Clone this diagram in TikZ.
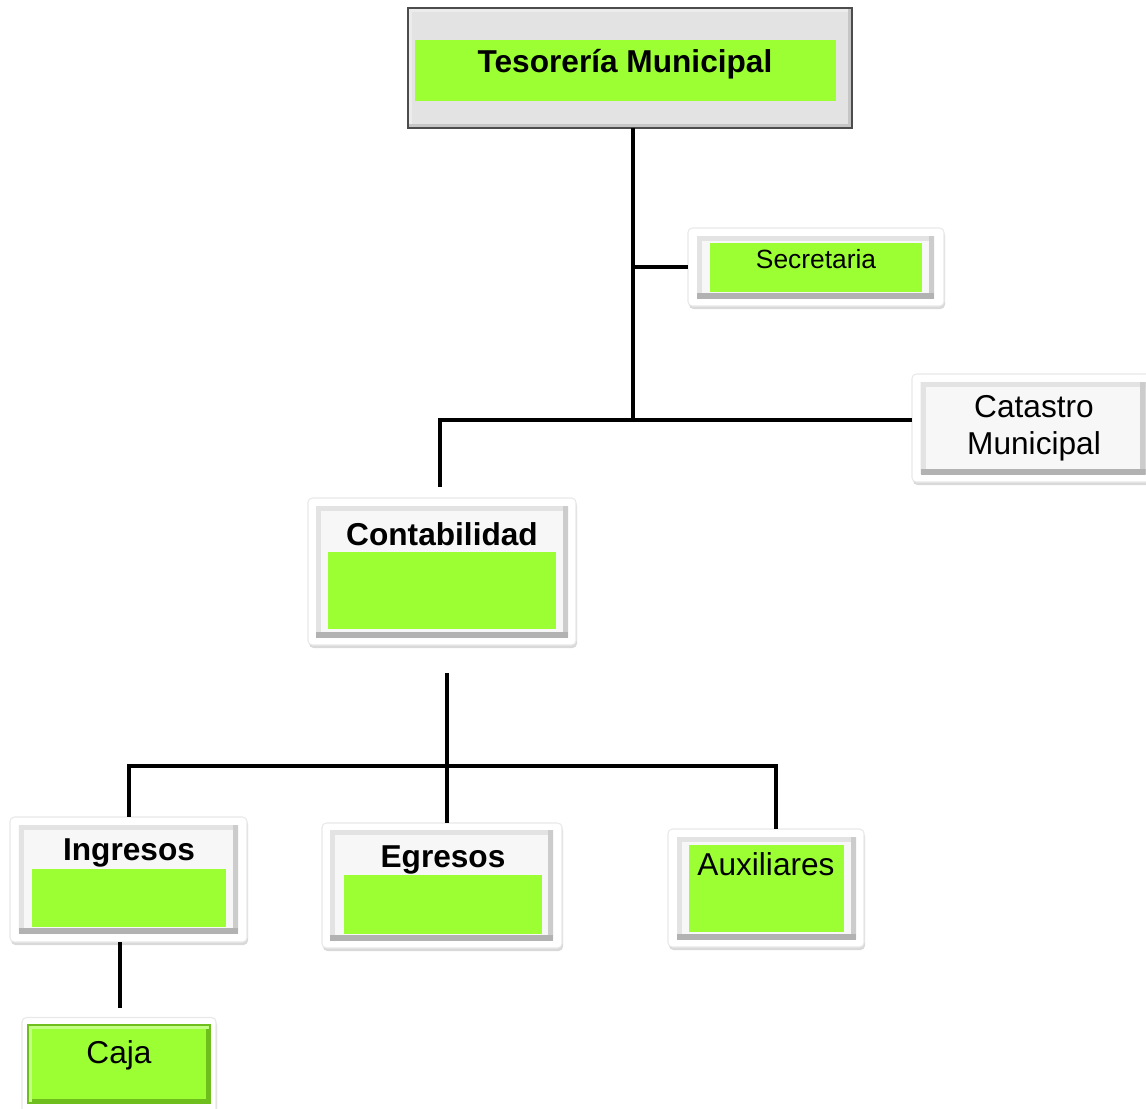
\documentclass[tikz,border=0pt]{standalone}
\usepackage{fontspec}
\setmainfont{Liberation Sans}
\usetikzlibrary{shadows}
\definecolor{lima}{RGB}{155,255,51}
\definecolor{limaosc}{RGB}{110,190,30}

\tikzset{
  marco/.style={rectangle, fill=white, draw=gray!18, line width=0.6pt, rounded corners=2.5pt, inner sep=0pt, outer sep=0pt,
    drop shadow={opacity=0.3, shadow xshift=0.2mm, shadow yshift=-0.6mm}},
  bisel/.style={rectangle, fill=gray!6, inner sep=0pt, outer sep=0pt,
    path picture={
      \draw[gray!22, line width=6pt] (path picture bounding box.south west) -- (path picture bounding box.north west) -- (path picture bounding box.north east);
      \draw[gray!40, line width=6pt] (path picture bounding box.north east) -- (path picture bounding box.south east);
      \draw[gray!60, line width=6pt] (path picture bounding box.south west) -- (path picture bounding box.south east);
    }},
  verde/.style={rectangle, fill=lima, inner sep=0pt, outer sep=0pt},
  linea/.style={line width=2.2pt},
  titulo/.style={font=\bfseries\fontsize{18}{21}\selectfont, anchor=base, inner sep=0pt},
  texto/.style={font=\fontsize{18}{21}\selectfont, anchor=base, inner sep=0pt},
}

\begin{document}
\begin{tikzpicture}[x=0.2mm, y=-0.2mm]
  \useasboundingbox (0,0) rectangle (1146,1108);
  \clip (0,0) rectangle (1146,1108);

  % Tesoreria
  \node[rectangle, fill=gray!22, draw=gray!60!black, line width=1pt, inner sep=0pt, outer sep=0pt,
    minimum width=88.8mm, minimum height=24mm,
    path picture={
      \draw[white!85!gray, line width=5pt] (path picture bounding box.south west) -- (path picture bounding box.north west) -- (path picture bounding box.north east);
      \draw[gray!45, line width=5pt] (path picture bounding box.south west) -- (path picture bounding box.south east) -- (path picture bounding box.north east);
    }] (tes) at (630,68) {};
  \node[verde, minimum width=84.2mm, minimum height=12.2mm] (tesv) at (625.5,70.5) {};
  \node[titulo] (test) at (625,72) {Tesorería Municipal};

  % Secretaria
  \node[marco, minimum width=51.2mm, minimum height=15.6mm] (sec) at (816,267) {};
  \node[bisel, minimum width=47.4mm, minimum height=12.4mm] (secb) at (815.5,267) {};
  \node[verde, minimum width=42.4mm, minimum height=9.8mm] (secv) at (816,267.5) {};
  \node[texto, font=\fontsize{15}{18}\selectfont] (sect) at (816,268) {Secretaria};

  % Catastro
  \node[marco, minimum width=47.6mm, minimum height=21.6mm] (cat) at (1031,428) {};
  \node[bisel, minimum width=45mm, minimum height=18.4mm] (catb) at (1033,428) {};
  \node[texto, anchor=center, align=center] (catt) at (1034,428) {Catastro\\Municipal};

  % Contabilidad
  \node[marco, minimum width=53.6mm, minimum height=29.4mm] (con) at (442,571.5) {};
  \node[bisel, minimum width=50.4mm, minimum height=26.2mm] (conb) at (442,571.5) {};
  \node[verde, minimum width=45.6mm, minimum height=15.4mm] (conv) at (442,590.5) {};
  \node[titulo] (cont) at (442,545) {Contabilidad};

  % Ingresos
  \node[marco, minimum width=47.4mm, minimum height=25mm] (ing) at (128.5,879.5) {};
  \node[bisel, minimum width=43.8mm, minimum height=21.6mm] (ingb) at (128.5,879) {};
  \node[verde, minimum width=38.8mm, minimum height=11.6mm] (ingv) at (129,898) {};
  \node[titulo] (ingt) at (129,860) {Ingresos};

  % Egresos
  \node[marco, minimum width=48mm, minimum height=25mm] (egr) at (442,885.5) {};
  \node[bisel, minimum width=44.6mm, minimum height=22mm] (egrb) at (441.5,885) {};
  \node[verde, minimum width=39.6mm, minimum height=11.8mm] (egrv) at (443,904.5) {};
  \node[titulo] (egrt) at (443,867) {Egresos};

  % Auxiliares
  \node[marco, minimum width=39.2mm, minimum height=23.6mm] (aux) at (766,888) {};
  \node[bisel, minimum width=35.8mm, minimum height=20.4mm] (auxb) at (766.5,888) {};
  \node[verde, minimum width=31mm, minimum height=17.4mm] (auxv) at (766.5,888.5) {};
  \node[texto] (auxt) at (766,875) {Auxiliares};

  % Caja
  \node[marco, minimum width=38.8mm, minimum height=19.4mm] (caja) at (119,1066) {};
  \node[rectangle, fill=lima, draw=limaosc, line width=0.8pt, inner sep=0pt, outer sep=0pt,
    minimum width=36.4mm, minimum height=15.6mm,
    path picture={
      \draw[limaosc, line width=5pt] (path picture bounding box.south west) -- (path picture bounding box.south east) -- (path picture bounding box.north east);
      \draw[lima!60!white, line width=4pt] (path picture bounding box.south west) -- (path picture bounding box.north west) -- (path picture bounding box.north east);
    }] (cajav) at (119,1064) {};
  \node[texto] (cajat) at (119,1063) {Caja};

  % conectores
  \coordinate (jsec) at (633,267);
  \coordinate (jcat) at (633,420);
  \coordinate (jcon) at (440,420);
  \coordinate (pcon) at (440,487);
  \coordinate (scon) at (447,673);
  \coordinate (jsub) at (447,766);
  \coordinate (jing) at (129,766);
  \coordinate (jaux) at (776,766);
  \coordinate (ping) at (120,1008);

  \draw[linea] (tes.south -| jcat) -- (jcat);
  \draw[linea] (jsec) -- (sec.west |- jsec);
  \draw[linea] (pcon) -- (jcon) -- (cat.west |- jcat);
  \draw[linea] (scon) -- (jsub) -- (egr.north -| jsub);
  \draw[linea] (jsub) -- (jing) -- (ing.north -| jing);
  \draw[linea] (jsub) -- (jaux) -- (aux.north -| jaux);
  \draw[linea] (ing.south -| ping) -- (ping);
\end{tikzpicture}
\end{document}
